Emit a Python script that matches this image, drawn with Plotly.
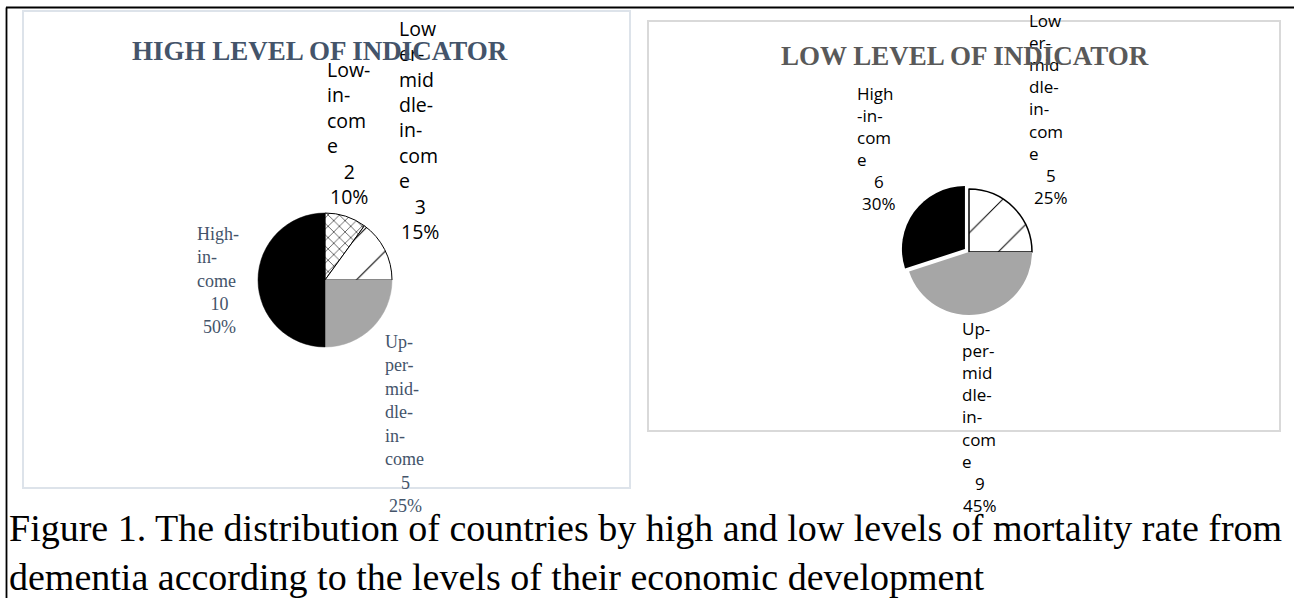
import plotly.graph_objects as go

# ---- data -------------------------------------------------------------
high_categories = ["Low-income", "Lower-middle-income", "Upper-middle-income", "High-income"]
high_values = [2, 3, 5, 10]

low_categories = ["Lower-middle-income", "Upper-middle-income", "High-income"]
low_values = [5, 9, 6]

# wrapped label text as it is broken across lines in the data labels
high_wrapped = {
    "Low-income": ["Low-", "in-", "com", "e"],
    "Lower-middle-income": ["Low", "er-", "mid", "dle-", "in-", "com", "e"],
    "Upper-middle-income": ["Up-", "per-", "mid-", "dle-", "in-", "come"],
    "High-income": ["High-", "in-", "come"],
}
low_wrapped = {
    "Lower-middle-income": ["Low", "er-", "mid", "dle-", "in-", "com", "e"],
    "Upper-middle-income": ["Up-", "per-", "mid", "dle-", "in-", "com", "e"],
    "High-income": ["High", "-in-", "com", "e"],
}

titles = ["HIGH LEVEL OF INDICATOR", "LOW LEVEL OF INDICATOR"]
caption_lines = [
    "Figure 1. The distribution of countries by high and low levels of mortality rate from",
    "dementia according to the levels of their economic development",
]

# ---- canvas helpers ---------------------------------------------------
W, H = 1294, 598


def px(x):
    return x / W


def py(y):
    return 1 - y / H


SANS = "Open Sans"
SERIF = "Liberation Serif"
GRAY = "#a6a6a6"
SLATE = "#44546a"

fig = go.Figure()

# left pie: high level of indicator
lc, lr = (325, 280), 67
fig.add_trace(go.Pie(
    labels=high_categories, values=high_values,
    sort=False, direction="clockwise", rotation=0,
    textinfo="none", hoverinfo="label+value+percent", showlegend=False,
    domain=dict(x=[px(lc[0] - lr), px(lc[0] + lr)], y=[py(lc[1] + lr), py(lc[1] - lr)]),
    marker=dict(
        colors=["white", "white", GRAY, "black"],
        line=dict(color=["black", "black", GRAY, "black"], width=[1, 1, 0.5, 0.5]),
        pattern=dict(shape=["x", "/", "", ""], fgcolor="black",
                     size=[8, 30, 8, 8], solidity=[0.14, 0.035, 0.2, 0.2]),
    ),
))

# right pie: low level of indicator (high-income slice pulled out)
rc, rr, pull = (969, 252), 63, 0.08
rh = rr * (1 + pull)
fig.add_trace(go.Pie(
    labels=low_categories, values=low_values,
    sort=False, direction="clockwise", rotation=0,
    textinfo="none", hoverinfo="label+value+percent", showlegend=False,
    pull=[0, 0, pull],
    domain=dict(x=[px(rc[0] - rh), px(rc[0] + rh)], y=[py(rc[1] + rh), py(rc[1] - rh)]),
    marker=dict(
        colors=["white", GRAY, "black"],
        line=dict(color=["black", GRAY, "black"], width=[1.5, 0, 0]),
        pattern=dict(shape=["/", "", ""], fgcolor="black",
                     size=[34, 8, 8], solidity=[0.03, 0.2, 0.2]),
    ),
))

annotations = []


def add_label(lines, value, total, left_x, first_y, num_x, font, size, color):
    """Category text (left aligned) followed by value and percent (centred)."""
    lh = size * 1.3
    annotations.append(dict(
        text="<br>".join(lines), x=px(left_x), y=py(first_y - lh / 2 - 1),
        xref="paper", yref="paper", xanchor="left", yanchor="top", align="left",
        showarrow=False, font=dict(family=font, size=size, color=color),
    ))
    num_top = first_y + len(lines) * lh
    pct = round(value / total * 100)
    annotations.append(dict(
        text=f"{value}<br>{pct}%", x=px(num_x), y=py(num_top - lh / 2 - 1),
        xref="paper", yref="paper", xanchor="center", yanchor="top", align="center",
        showarrow=False, font=dict(family=font, size=size, color=color),
    ))


ht = sum(high_values)
hv = dict(zip(high_categories, high_values))
add_label(high_wrapped["Low-income"], hv["Low-income"], ht, 325, 68, 349, SANS, 19.5, "black")
add_label(high_wrapped["Lower-middle-income"], hv["Lower-middle-income"], ht, 397, 27, 420, SANS, 19.5, "black")
add_label(high_wrapped["High-income"], hv["High-income"], ht, 195, 235, 219, SERIF, 18, SLATE)
add_label(high_wrapped["Upper-middle-income"], hv["Upper-middle-income"], ht, 383, 343, 405, SERIF, 18, SLATE)

lt = sum(low_values)
lv = dict(zip(low_categories, low_values))
add_label(low_wrapped["High-income"], lv["High-income"], lt, 855, 92, 879, SANS, 17, "black")
add_label(low_wrapped["Lower-middle-income"], lv["Lower-middle-income"], lt, 1027, 19.5, 1051, SANS, 17, "black")
add_label(low_wrapped["Upper-middle-income"], lv["Upper-middle-income"], lt, 960, 327, 980, SANS, 17, "black")

# chart titles
annotations.append(dict(
    text=f"<b>{titles[0]}</b>", x=px(319.5), y=py(51), xref="paper", yref="paper",
    xanchor="center", yanchor="middle", showarrow=False,
    font=dict(family=SERIF, size=27, color=SLATE),
))
annotations.append(dict(
    text=f"<b>{titles[1]}</b>", x=px(965), y=py(56), xref="paper", yref="paper",
    xanchor="center", yanchor="middle", showarrow=False,
    font=dict(family=SERIF, size=27, color="#595959"),
))

# figure caption
annotations.append(dict(
    text="<br>".join(caption_lines), x=px(7), y=py(552), xref="paper", yref="paper",
    xanchor="left", yanchor="middle", align="left", showarrow=False,
    font=dict(family=SERIF, size=38, color="black"),
))

shapes = [
    # chart frames
    dict(type="rect", xref="paper", yref="paper", x0=px(23), x1=px(630), y0=py(488), y1=py(11),
         line=dict(color="#dde3ea", width=2), layer="below"),
    dict(type="rect", xref="paper", yref="paper", x0=px(648), x1=px(1280), y0=py(431), y1=py(21),
         line=dict(color="#d9d9d9", width=2), layer="below"),
    # outer page rules
    dict(type="line", xref="paper", yref="paper", x0=px(6), x1=1, y0=py(7.5), y1=py(7.5),
         line=dict(color="black", width=1.8)),
    dict(type="line", xref="paper", yref="paper", x0=px(6.5), x1=px(6.5), y0=py(7.5), y1=0,
         line=dict(color="black", width=1.8)),
]

fig.update_layout(
    width=W, height=H, autosize=False,
    margin=dict(l=0, r=0, t=0, b=0),
    paper_bgcolor="white", plot_bgcolor="white",
    annotations=annotations, shapes=shapes,
)

fig.write_html("out.html")
